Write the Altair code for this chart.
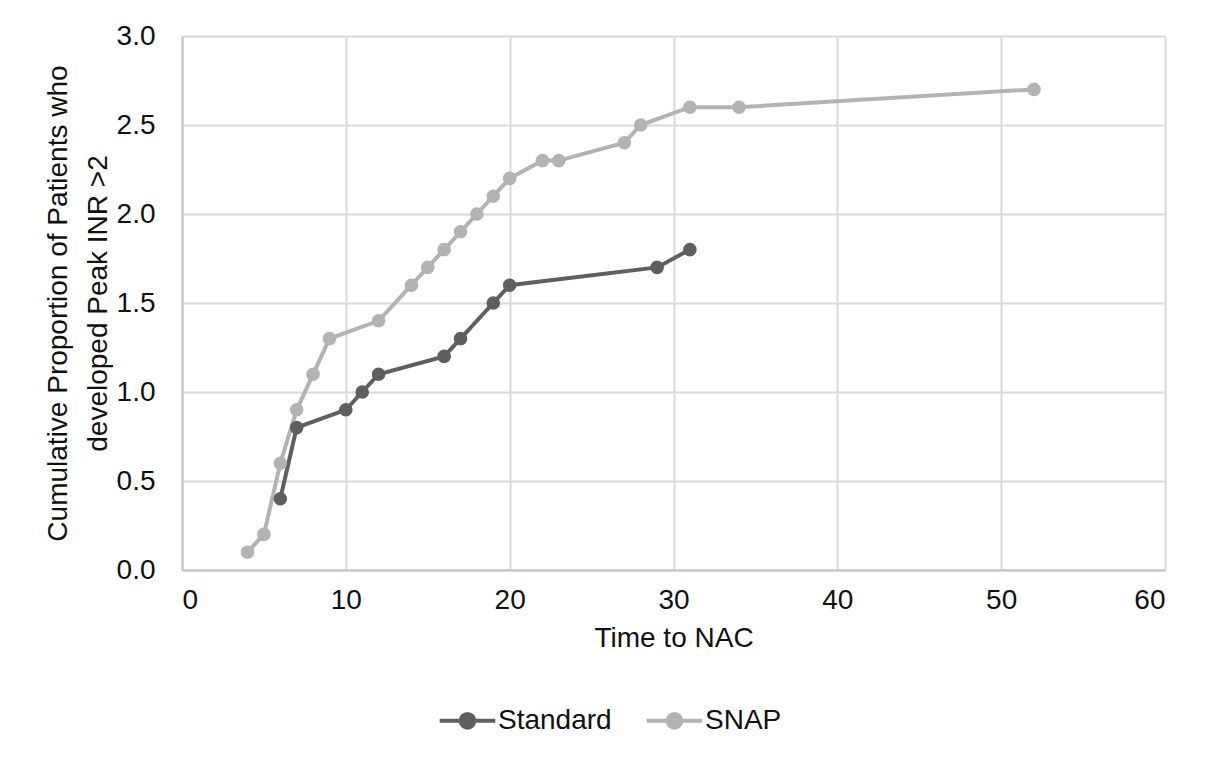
import altair as alt
import pandas as pd

std_x = [6, 7, 10, 11, 12, 16, 17, 19, 20, 29, 31]
std_y = [0.4, 0.8, 0.9, 1.0, 1.1, 1.2, 1.3, 1.5, 1.6, 1.7, 1.8]
snap_x = [4, 5, 6, 7, 8, 9, 12, 14, 15, 16, 17, 18, 19, 20, 22, 23, 27, 28, 31, 34, 52]
snap_y = [0.1, 0.2, 0.6, 0.9, 1.1, 1.3, 1.4, 1.6, 1.7, 1.8, 1.9, 2.0, 2.1, 2.2, 2.3, 2.3, 2.4, 2.5, 2.6, 2.6, 2.7]
series = ["Standard", "SNAP"]
colors = ["#5f5f5f", "#b3b3b3"]
x_ticks = [0, 10, 20, 30, 40, 50, 60]
y_ticks = [0, 0.5, 1, 1.5, 2, 2.5, 3]

df = pd.concat([
    pd.DataFrame({"t": std_x, "v": std_y, "s": "Standard"}),
    pd.DataFrame({"t": snap_x, "v": snap_y, "s": "SNAP"}),
])

FONT = "Liberation Sans"
TXT = "#111111"
symbol = "M-1.62,0H1.62M0.4,0A0.4,0.4 0 1,1 -0.4,0A0.4,0.4 0 1,1 0.4,0Z"

color = alt.Color("s:N", scale=alt.Scale(domain=series, range=colors),
                  legend=alt.Legend(title=None, orient="none", direction="horizontal",
                                    legendX=266, legendY=665, padding=0,
                                    symbolType=symbol, symbolSize=1180, symbolStrokeWidth=4,
                                    labelFontSize=28, labelFont=FONT, labelColor=TXT,
                                    columnPadding=26, labelOffset=11))

x = alt.X("t:Q", title="Time to NAC", scale=alt.Scale(domain=[0, 60], nice=False),
          axis=alt.Axis(values=x_ticks, labelPadding=16, titlePadding=10))
y = alt.Y("v:Q", title=["Cumulative Proportion of Patients who", "developed Peak INR >2"],
          scale=alt.Scale(domain=[0, 3], nice=False),
          axis=alt.Axis(values=y_ticks, format=".1f", labelPadding=27, titlePadding=4,
                        titleLineHeight=40))

base = alt.Chart(df).encode(x=x, y=y, color=color, detail="s:N")
lines = base.mark_line(strokeWidth=4).encode(order="t:Q")
points = base.mark_point(filled=True, size=185, opacity=1)

chart = alt.layer(lines, points).properties(
    width=983, height=534,
    autosize=alt.AutoSizeParams(type="none"),
    padding={"left": 174, "top": 28, "right": 30, "bottom": 170},
).configure_view(stroke=None).configure_axis(
    labelFont=FONT, titleFont=FONT, labelFontSize=28, titleFontSize=28,
    labelColor=TXT, titleColor=TXT, titleFontWeight="normal",
    gridColor="#d9d9d9", gridWidth=2, domainColor="#c4c4c4", domainWidth=2,
    ticks=False,
)

chart.save("out.html", embed_options={"renderer": "svg", "actions": False})
